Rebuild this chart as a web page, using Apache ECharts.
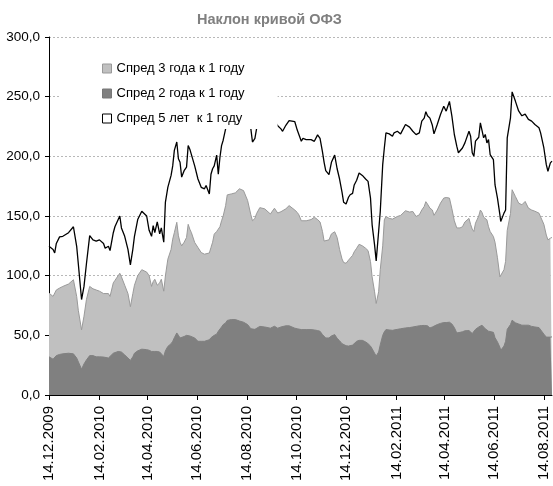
<!DOCTYPE html>
<html>
<head>
<meta charset="utf-8">
<script src="https://cdn.jsdelivr.net/npm/echarts@6/dist/echarts.min.js"></script>
<style>
  html, body { margin: 0; padding: 0; background: #fff; }
  #chart { width: 553px; height: 486px; }
</style>
</head>
<body>
<div id="chart"></div>
<script>
const dates = [
  '2009-12-14','2009-12-19','2009-12-21','2009-12-23','2009-12-25','2009-12-27','2009-12-31',
  '2010-01-07','2010-01-13','2010-01-17','2010-01-19','2010-01-23','2010-01-26','2010-01-29',
  '2010-02-02','2010-02-06','2010-02-10','2010-02-14','2010-02-19','2010-02-21','2010-02-25','2010-02-27',
  '2010-03-03','2010-03-05','2010-03-09','2010-03-11','2010-03-13','2010-03-17','2010-03-21','2010-03-24','2010-03-27','2010-03-29',
  '2010-04-02','2010-04-07','2010-04-09','2010-04-13','2010-04-16','2010-04-19','2010-04-21','2010-04-23','2010-04-26','2010-04-29',
  '2010-05-01','2010-05-04','2010-05-06','2010-05-09','2010-05-13','2010-05-15','2010-05-17','2010-05-20','2010-05-22','2010-05-24','2010-05-26','2010-05-29',
  '2010-06-01','2010-06-03','2010-06-05','2010-06-07','2010-06-11','2010-06-15','2010-06-19','2010-06-23','2010-06-25','2010-06-29',
  '2010-07-01','2010-07-03','2010-07-05','2010-07-08','2010-07-10','2010-07-12','2010-07-14','2010-07-16','2010-07-19','2010-07-21','2010-07-26','2010-07-31',
  '2010-08-05','2010-08-10','2010-08-15','2010-08-19','2010-08-21','2010-08-24','2010-08-26','2010-08-30',
  '2010-09-05','2010-09-12','2010-09-17','2010-09-21','2010-09-25','2010-09-27',
  '2010-10-01','2010-10-05','2010-10-07','2010-10-12','2010-10-15','2010-10-17','2010-10-20','2010-10-22','2010-10-26',
  '2010-11-01','2010-11-05','2010-11-09','2010-11-12','2010-11-15','2010-11-17','2010-11-19','2010-11-23','2010-11-26','2010-11-30',
  '2010-12-03','2010-12-06','2010-12-09','2010-12-11','2010-12-14','2010-12-17','2010-12-19','2010-12-22','2010-12-24','2010-12-27','2010-12-30',
  '2011-01-03','2011-01-07','2011-01-10','2011-01-13','2011-01-15','2011-01-18','2011-01-20','2011-01-23','2011-01-25','2011-01-28','2011-01-30',
  '2011-02-01','2011-02-05','2011-02-09','2011-02-11','2011-02-15','2011-02-19','2011-02-21','2011-02-25',
  '2011-03-02','2011-03-06','2011-03-10','2011-03-14','2011-03-17','2011-03-20','2011-03-22','2011-03-24','2011-03-27','2011-03-30',
  '2011-04-01','2011-04-05','2011-04-09','2011-04-13','2011-04-16','2011-04-18','2011-04-20','2011-04-23','2011-04-26','2011-04-29',
  '2011-05-01','2011-05-03','2011-05-06','2011-05-09','2011-05-14','2011-05-16','2011-05-18','2011-05-20','2011-05-22','2011-05-26','2011-05-28','2011-05-30',
  '2011-06-01','2011-06-03','2011-06-05','2011-06-07','2011-06-09','2011-06-13','2011-06-15','2011-06-18','2011-06-21','2011-06-22','2011-06-26','2011-06-28','2011-06-30',
  '2011-07-04','2011-07-06','2011-07-10','2011-07-14','2011-07-18','2011-07-22','2011-07-26','2011-07-30',
  '2011-08-03','2011-08-08','2011-08-10','2011-08-14','2011-08-17','2011-08-19','2011-08-22','2011-08-24'
];

// Спред 5 лет к 1 году (линия)
const spread5 = [
  124.6, 122, 119, 127, 126, 132.5, 133,
  136, 141, 124.6, 110, 80, 91, 110,
  133.6, 130, 129, 130, 127, 123, 124.6, 121,
  136, 141, 147, 150, 140, 133, 122, 109, 122, 133,
  147, 154, 155, 150, 138, 133, 142, 136, 145, 135,
  140, 128, 161.5, 174, 184, 192, 205, 212, 198, 195, 182.6, 188,
  191, 209, 206, 205, 192, 181, 174, 172.8, 175.6, 168.5,
  185, 189.6, 192, 201, 185, 199, 209, 213.5, 223, 232, 236, 240,
  236, 232, 228, 223, 212, 215, 223, 232,
  230, 224, 230, 225.6, 223, 221,
  226, 230, 231, 229, 222, 220.5, 212.6, 215, 214,
  214, 212.6, 218, 215, 203.7, 195, 188, 184.6, 195, 201,
  189.6, 181, 170, 161.5, 160, 165.7, 167.8, 169, 176, 180, 186,
  184, 181, 179, 165, 142.6, 125.8, 112.3, 137, 153.8, 193, 207,
  219.7, 218.8, 216.8, 219.7, 221, 218.8, 218.2, 226.7,
  224.5, 221, 218.2, 219.7, 229.5, 232, 237.4, 234, 232, 226,
  218.8, 226.7, 235, 242, 237.9, 242, 246, 233.7, 218.3, 208.5,
  203, 201.5, 207, 211.3, 221, 216.8, 203, 200, 212.7, 216, 228, 227,
  215.5, 218.3, 211.3, 214, 201.5, 197.3, 176, 165, 151, 145.4, 152.4, 155, 215.5,
  232.3, 254, 246.3, 238, 234, 235.4, 231, 229.5,
  226.7, 224, 219.7, 207, 193, 187.5, 194.5, 196
];

// Спред 3 года к 1 году (светлая область)
const spread3 = [
  85.4, 82.6, 81, 88, 88.5, 89.6, 91,
  93, 96.6, 82.6, 71, 54.6, 66, 80,
  91, 89, 88, 87, 85, 84, 85, 82.6,
  94, 96, 100, 102, 99, 92, 85, 74, 85, 92,
  100, 105, 105, 103, 100, 91, 95, 97, 92, 94,
  97, 87, 99.7, 113.8, 122, 130.6, 136, 144.7, 133.4, 128, 125, 128,
  132, 143, 139, 136, 127.8, 123.6, 119.4, 118, 119, 119,
  123.6, 128, 134.8, 137, 139, 141, 146, 150, 158.7, 167.7, 168.5, 169.4,
  172.8, 171.3, 163, 151, 146, 148, 152, 157,
  156, 151.7, 156.5, 152.5, 153.6, 153.6,
  156, 158.7, 157.5, 155, 153, 151, 146, 146, 146,
  147, 149, 147, 145, 137, 129, 127.5, 130, 135, 136.8,
  132, 122, 114, 111, 110.4, 113, 114.5, 117, 120, 123, 126.3,
  125, 123, 121, 111.8, 99, 86.5, 76.7, 86.5, 105, 125, 146.8,
  149.6, 148, 147.4, 148.5, 149.6, 150.5, 151, 154.4,
  153.3, 153.8, 149.6, 151, 155, 158, 162, 160, 156.6, 155,
  150.5, 155, 160.8, 165, 165.5, 166.4, 165, 156, 146, 140,
  138.4, 140, 141, 145, 148, 143, 139, 137, 144, 150, 155, 153,
  149, 148, 146.8, 141, 137, 132.8, 128, 115, 99, 99, 105, 112, 138,
  152, 172, 166.4, 160.8, 159.4, 162.2, 156.6, 155,
  154, 152.4, 151, 143, 134, 130, 131.4, 132
];

// Спред 2 года к 1 году (тёмная область)
const spread2 = [
  32, 30, 30, 33, 33.5, 34, 34.5,
  35, 34.5, 31, 29.4, 21.6, 26, 29.4,
  33, 33, 32, 32, 31.8, 31.7, 31, 30.8,
  35, 35.6, 36.5, 37, 36, 33.6, 31, 29, 32, 35,
  37, 38.4, 38.2, 38, 37.5, 36.5, 37, 36.5, 36.5, 36,
  36, 32.3, 37, 40.7, 43, 45, 48, 52, 50, 47.8, 48, 49,
  50, 50.6, 49.5, 48.5, 47.8, 45, 45, 45, 46, 46.3,
  48, 49, 50, 51, 53.4, 55, 57, 59, 60.4, 62.5, 63.2, 63.2,
  62, 61, 59, 55.5, 54.5, 55, 56.5, 57.5,
  57, 56, 57.6, 56, 57, 57.5,
  58, 58, 57.5, 56, 55.5, 55, 54.8, 54.8, 54.8,
  54.8, 54.5, 54, 53.4, 50.6, 49, 47.8, 47.8, 49.5, 50.6,
  47.5, 45.5, 43, 41.5, 41.3, 41, 41.2, 41.8, 42.5, 45, 45.8,
  45.8, 44.5, 43, 41, 38.8, 35, 32.7, 36, 42, 50, 53,
  54.8, 54.5, 54.2, 54.5, 55, 55.5, 55.8, 56.2,
  56.5, 57, 57.5, 58, 58.2, 58.3, 58.5, 58, 56.2, 57,
  57.5, 59, 60, 60.7, 60.7, 61, 61, 59.5, 56.5, 52,
  51.5, 52.5, 53, 53.8, 54, 53.5, 51.5, 52.5, 55, 57, 58, 58.5,
  57, 55.5, 54.2, 53.5, 53, 52.5, 48, 44.5, 40, 37.4, 41, 45, 55,
  59, 62.7, 60.5, 59.5, 58.5, 58.5, 58.5, 57.5,
  57, 56.5, 55.7, 51, 48.5, 47.3, 48.5, 48.7
];

const tickDates = ['2009-12-14', '2010-02-14', '2010-04-14', '2010-06-14', '2010-08-14', '2010-10-14',
  '2010-12-14', '2011-02-14', '2011-04-14', '2011-06-14', '2011-08-14'];

const names = ['Спред 3 года к 1 году', 'Спред 2 года к 1 году', 'Спред 5 лет  к 1 году'];

const font = "'Liberation Sans', Arial, sans-serif";

// даты -> метки времени (UTC), ось x как числовая
const ts = d => Date.parse(d);
const pad = n => (n < 10 ? '0' : '') + n;
const fmtDate = v => {
  const d = new Date(v);
  return pad(d.getUTCDate()) + '.' + pad(d.getUTCMonth() + 1) + '.' + d.getUTCFullYear();
};
const pairs = vals => dates.map((d, i) => [ts(d), vals[i]]);

const chart = echarts.init(document.getElementById('chart'));
chart.setOption({
  animation: false,
  backgroundColor: '#fff',
  title: {
    text: 'Наклон кривой ОФЗ',
    left: 192,
    top: 7,
    textStyle: { fontFamily: font, fontSize: 14.5, fontWeight: 'bold', color: '#808080' }
  },
  legend: {
    orient: 'vertical',
    left: 60,
    top: 50,
    padding: [11, 33, 3, 42],
    backgroundColor: '#fff',
    itemWidth: 9,
    itemHeight: 9,
    itemGap: 10,
    selectedMode: false,
    textStyle: { fontFamily: font, fontSize: 13, color: '#000', lineHeight: 15 },
    data: [
      { name: names[0], icon: 'rect', itemStyle: { color: '#c0c0c0', borderColor: '#999', borderWidth: 1 } },
      { name: names[1], icon: 'rect', itemStyle: { color: '#808080', borderColor: '#777', borderWidth: 1 } },
      { name: names[2], icon: 'rect', itemStyle: { color: '#fff', borderColor: '#000', borderWidth: 1 } }
    ]
  },
  grid: { left: 49, right: 1, top: 37, bottom: 91, containLabel: false },
  xAxis: {
    type: 'value',
    min: ts('2009-12-14'),
    max: ts('2011-08-24'),
    axisLine: { show: true, lineStyle: { color: '#000', width: 1 } },
    axisTick: { show: true, length: 5, lineStyle: { color: '#000' }, customValues: tickDates.map(ts) },
    axisLabel: {
      customValues: tickDates.map(ts),
      rotate: 90,
      margin: 11,
      color: '#000',
      fontFamily: font,
      fontSize: 15,
      formatter: v => fmtDate(v)
    },
    splitLine: { show: false }
  },
  yAxis: {
    type: 'value',
    min: 0,
    max: 300,
    interval: 50,
    axisLine: { show: true, lineStyle: { color: '#000', width: 1 } },
    axisTick: { show: true, length: 4, lineStyle: { color: '#000' } },
    axisLabel: {
      color: '#000',
      fontFamily: font,
      fontSize: 13.5,
      margin: 9,
      formatter: v => v.toFixed(1).replace('.', ',')
    },
    splitLine: { show: true, lineStyle: { color: '#b8b8b8', type: [2, 2], width: 1 } }
  },
  series: [
    {
      name: names[0],
      type: 'line',
      data: pairs(spread3),
      showSymbol: false,
      lineStyle: { color: '#9a9a9a', width: 1 },
      itemStyle: { color: '#c0c0c0' },
      areaStyle: { color: '#c0c0c0', opacity: 1 },
      z: 1
    },
    {
      name: names[1],
      type: 'line',
      data: pairs(spread2),
      showSymbol: false,
      lineStyle: { color: '#808080', width: 1 },
      itemStyle: { color: '#808080' },
      areaStyle: { color: '#808080', opacity: 1 },
      z: 2
    },
    {
      name: names[2],
      type: 'line',
      data: pairs(spread5),
      showSymbol: false,
      lineStyle: { color: '#000', width: 1.3 },
      itemStyle: { color: '#000' },
      z: 3
    }
  ]
});
</script>
</body>
</html>
